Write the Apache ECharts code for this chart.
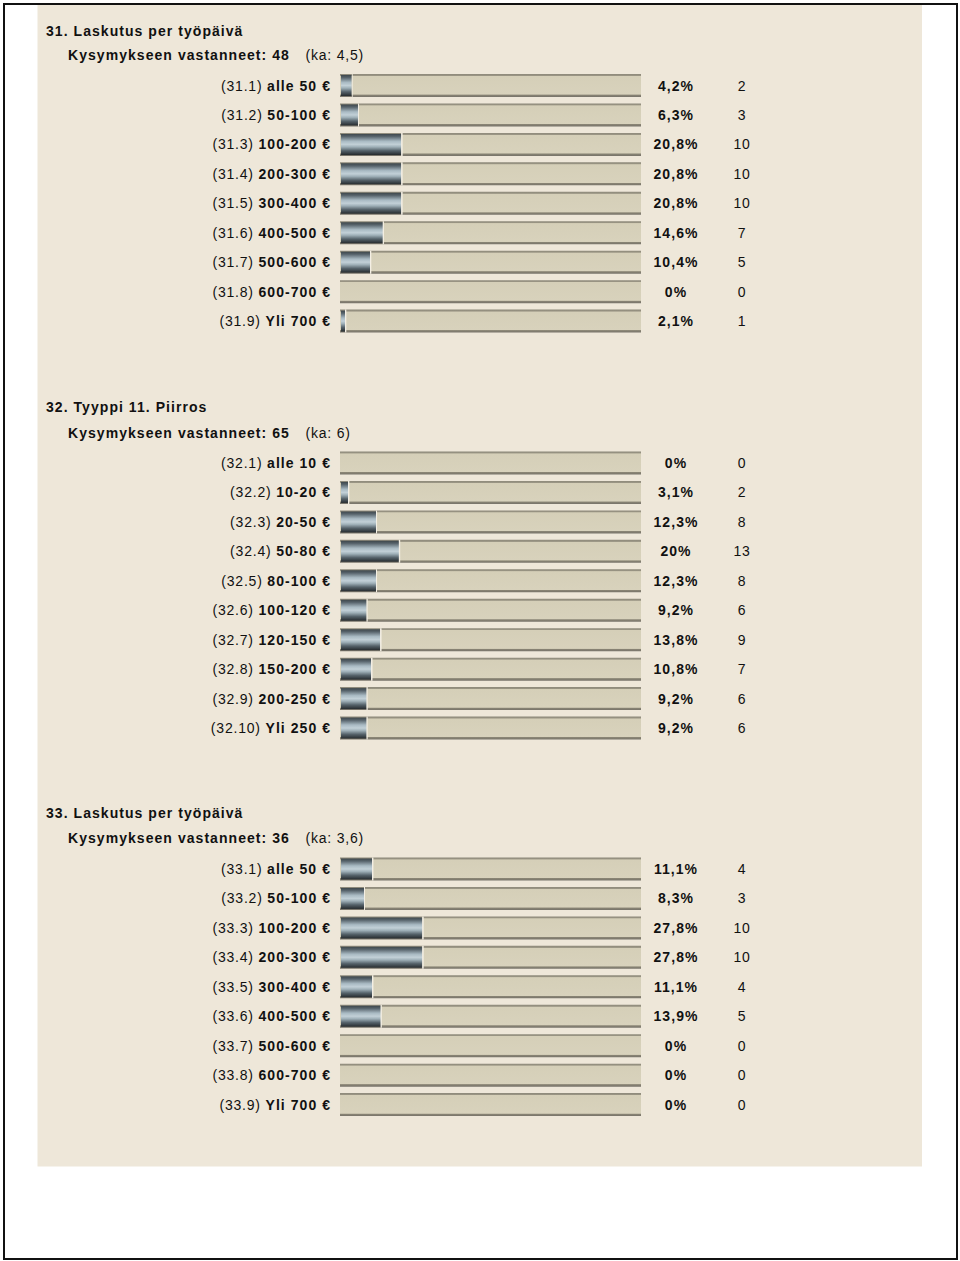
<!DOCTYPE html>
<html><head><meta charset="utf-8">
<script src="https://cdn.jsdelivr.net/npm/echarts@6.0.0/dist/echarts.min.js"></script>
<style>
html,body{margin:0;padding:0;background:#fff;}
#c{width:960px;height:1261px;}
#c svg text{letter-spacing:0.8px;}
#c svg text[style*="bold"]{letter-spacing:1.05px;}
</style></head><body><div id="c"></div>
<script>
// ---------- data ----------
var titles = ['31. Laskutus per työpäivä', '32. Tyyppi 11. Piirros', '33. Laskutus per työpäivä'];
var answered = ['Kysymykseen vastanneet: 48', 'Kysymykseen vastanneet: 65', 'Kysymykseen vastanneet: 36'];
var averages = ['(ka: 4,5)', '(ka: 6)', '(ka: 3,6)'];

var codes31 = ['(31.1)', '(31.2)', '(31.3)', '(31.4)', '(31.5)', '(31.6)', '(31.7)', '(31.8)', '(31.9)'];
var labels31 = ['alle 50 €', '50-100 €', '100-200 €', '200-300 €', '300-400 €', '400-500 €', '500-600 €', '600-700 €', 'Yli 700 €'];
var pct31 = [4.2, 6.3, 20.8, 20.8, 20.8, 14.6, 10.4, 0, 2.1];
var count31 = [2, 3, 10, 10, 10, 7, 5, 0, 1];

var codes32 = ['(32.1)', '(32.2)', '(32.3)', '(32.4)', '(32.5)', '(32.6)', '(32.7)', '(32.8)', '(32.9)', '(32.10)'];
var labels32 = ['alle 10 €', '10-20 €', '20-50 €', '50-80 €', '80-100 €', '100-120 €', '120-150 €', '150-200 €', '200-250 €', 'Yli 250 €'];
var pct32 = [0, 3.1, 12.3, 20, 12.3, 9.2, 13.8, 10.8, 9.2, 9.2];
var count32 = [0, 2, 8, 13, 8, 6, 9, 7, 6, 6];

var codes33 = ['(33.1)', '(33.2)', '(33.3)', '(33.4)', '(33.5)', '(33.6)', '(33.7)', '(33.8)', '(33.9)'];
var labels33 = ['alle 50 €', '50-100 €', '100-200 €', '200-300 €', '300-400 €', '400-500 €', '500-600 €', '600-700 €', 'Yli 700 €'];
var pct33 = [11.1, 8.3, 27.8, 27.8, 11.1, 13.9, 0, 0, 0];
var count33 = [4, 3, 10, 10, 4, 5, 0, 0, 0];

// ---------- layout ----------
var FONT = 'Liberation Sans, Arial, Helvetica, sans-serif';
var BOLD_SP = 1.05, NORM_SP = 0.8;
var mctx = document.createElement('canvas').getContext('2d');
echarts.setPlatformAPI({
  measureText: function (text, font) {
    font = font || '12px sans-serif';
    mctx.font = font;
    var s = String(text == null ? '' : text);
    var m = mctx.measureText(s);
    var n = Array.from(s).length;
    return {
      width: m.width + n * (/bold/.test(font) ? BOLD_SP : NORM_SP),
      actualBoundingBoxAscent: m.actualBoundingBoxAscent,
      actualBoundingBoxDescent: m.actualBoundingBoxDescent
    };
  }
});

var sections = [
  { codes: codes31, labels: labels31, pct: pct31, count: count31, titleY: 30.5, subY: 54.5, firstRow: 85.5 },
  { codes: codes32, labels: labels32, pct: pct32, count: count32, titleY: 407, subY: 432.5, firstRow: 463 },
  { codes: codes33, labels: labels33, pct: pct33, count: count33, titleY: 813, subY: 838, firstRow: 869 }
];
var STEP = 29.45;

function pctText(v) { return String(v).replace('.', ',') + '%'; }

var darkGrad = new echarts.graphic.LinearGradient(0, 0, 0, 1, [
  { offset: 0, color: '#3e474b' },
  { offset: 0.12, color: '#56626a' },
  { offset: 0.35, color: '#a9bac3' },
  { offset: 0.5, color: '#c2d0d7' },
  { offset: 0.62, color: '#9fb0b8' },
  { offset: 0.8, color: '#55626a' },
  { offset: 1, color: '#262b2e' }
]);
var trackGrad = new echarts.graphic.LinearGradient(0, 0, 0, 1, [
  { offset: 0, color: '#8d897a' },
  { offset: 0.07, color: '#9a9584' },
  { offset: 0.1, color: '#d5cfb8' },
  { offset: 0.88, color: '#d8d2bc' },
  { offset: 0.91, color: '#8a8575' },
  { offset: 1, color: '#77736a' }
]);
var sepGrad = new echarts.graphic.LinearGradient(0, 0, 1, 0, [
  { offset: 0, color: 'rgba(242,237,226,0)' },
  { offset: 0.985, color: 'rgba(242,237,226,0)' },
  { offset: 1, color: '#f4efe4' }
]);

var grids = [], xAxes = [], yAxes = [], series = [];
var elements = [
  { type: 'rect', z: -20, shape: { x: 37.5, y: 4, width: 884.5, height: 1162.5 }, style: { fill: '#eee7d9' } },
  { type: 'rect', z: -19, shape: { x: 4, y: 4, width: 953, height: 1255 }, style: { fill: 'none', stroke: '#111', lineWidth: 2 } }
];

sections.forEach(function (s, i) {
  var n = s.labels.length;
  grids.push({ left: 340, width: 301, top: s.firstRow - STEP / 2, height: n * STEP });
  xAxes.push({ gridIndex: i, type: 'value', min: 0, max: 100, show: false });
  var common = {
    gridIndex: i, type: 'category', inverse: true, data: s.labels,
    axisLine: { show: false }, axisTick: { show: false }, splitLine: { show: false }
  };
  yAxes.push(Object.assign({}, common, {
    position: 'left',
    axisLabel: {
      interval: 0, margin: 9, color: '#111', fontSize: 14, fontFamily: FONT,
      formatter: function (v, idx) { return '{n|' + s.codes[idx] + '} {b|' + v + '}'; },
      rich: {
        n: { fontSize: 14, fontFamily: FONT, color: '#111' },
        b: { fontSize: 14, fontFamily: FONT, color: '#111', fontWeight: 'bold' }
      }
    }
  }));
  yAxes.push(Object.assign({}, common, {
    position: 'right',
    axisLabel: {
      interval: 0, margin: 5, color: '#111', fontSize: 14, fontFamily: FONT,
      formatter: function (v, idx) { return '{p|' + pctText(s.pct[idx]) + '}{c|' + s.count[idx] + '}'; },
      rich: {
        p: { width: 60, align: 'center', fontSize: 14, fontFamily: FONT, color: '#111', fontWeight: 'bold' },
        c: { width: 72, align: 'center', fontSize: 14, fontFamily: FONT, color: '#111' }
      }
    }
  }));
  series.push({
    type: 'bar', xAxisIndex: i, yAxisIndex: 2 * i, data: s.pct, barWidth: 23,
    showBackground: true, backgroundStyle: { color: trackGrad },
    itemStyle: { color: darkGrad, borderColor: sepGrad, borderWidth: 2 },
    emphasis: { disabled: true }, silent: true
  });
  elements.push({ type: 'text', z: 10, x: 46, y: s.titleY,
    style: { text: titles[i], font: 'bold 14px ' + FONT, fill: '#111', verticalAlign: 'middle', textVerticalAlign: 'middle' } });
  elements.push({ type: 'text', z: 10, x: 68, y: s.subY,
    style: { text: answered[i], font: 'bold 14px ' + FONT, fill: '#111', verticalAlign: 'middle', textVerticalAlign: 'middle' } });
  elements.push({ type: 'text', z: 10, x: 305.5, y: s.subY,
    style: { text: averages[i], font: '14px ' + FONT, fill: '#111', verticalAlign: 'middle', textVerticalAlign: 'middle' } });
});

var chart = echarts.init(document.getElementById('c'), null, { renderer: 'svg', width: 960, height: 1261 });
chart.setOption({
  backgroundColor: '#ffffff',
  animation: false,
  grid: grids,
  xAxis: xAxes,
  yAxis: yAxes,
  series: series,
  graphic: { elements: elements }
});
</script>
</body></html>
